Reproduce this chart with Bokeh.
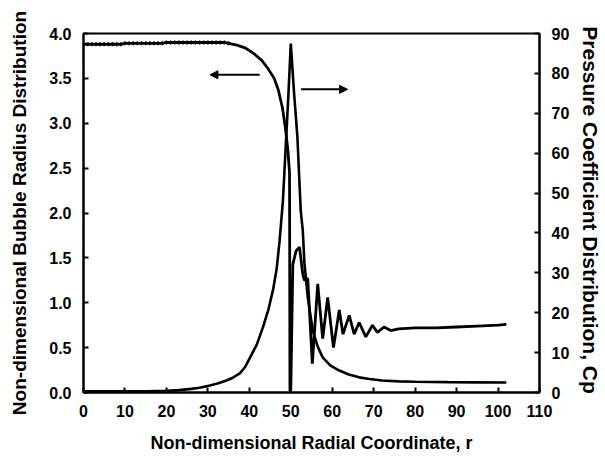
from bokeh.plotting import figure
from bokeh.models import Range1d, LinearAxis, FixedTicker, Arrow, NormalHead, PrintfTickFormatter
from bokeh.embed import file_html
from bokeh.resources import INLINE

# ---- data ----
# Bubble radius distribution (left axis)
bubble_r = [0, 1, 2, 3, 4, 5, 6, 7, 8, 9, 10, 11, 12, 13, 14, 15, 16, 17, 18, 19, 20,
            21, 22, 23, 24, 25, 26, 27, 28, 29, 30, 31, 32, 33, 34, 35,
            37, 39, 41, 43, 44.5, 46, 47, 48, 48.7, 49.3, 49.7, 49.8, 50.0, 50.5, 51.3, 52.1,
            52.9, 53.3, 54.1, 55.2, 56.5, 57.7, 58.9, 60.3, 61.7, 62.6, 64.1, 65.3, 66.5, 68.1,
            69.7, 70.9, 72.5, 74.1, 76, 80, 85, 90, 95, 100, 102]
bubble_val = [3.88, 3.88, 3.88, 3.88, 3.88, 3.88, 3.88, 3.88, 3.88, 3.88, 3.89, 3.89, 3.89, 3.89,
              3.89, 3.89, 3.89, 3.89, 3.89, 3.89, 3.9, 3.9, 3.9, 3.9, 3.9, 3.9, 3.9, 3.9, 3.9,
              3.9, 3.9, 3.9, 3.9, 3.9, 3.9, 3.89,
              3.87, 3.84, 3.78, 3.7, 3.61, 3.5, 3.37, 3.17, 2.95, 2.7, 2.45, 0.02, 0.02, 1.43, 1.58, 1.62,
              1.32, 1.25, 1.27, 0.32, 1.21, 0.6, 1.06, 0.5, 0.92, 0.65, 0.86, 0.65, 0.78, 0.62,
              0.75, 0.67, 0.73, 0.69, 0.71, 0.72, 0.72, 0.73, 0.74, 0.75, 0.76]
n_marked = 36  # dotted (marked) part of the bubble curve: r = 0 .. 35

# Pressure coefficient distribution (right axis)
cp_r = [0, 5, 10, 15, 20, 23, 26, 28, 30.5, 32.5, 34.5, 36, 37.7, 39, 40.1, 41.8, 43.3, 44.6, 45.7,
        46.6, 47.3, 48.1, 48.8, 49.4, 50.0, 50.8, 51.6, 52.4, 52.9, 53.3, 54.1, 55.3, 56.5,
        57.7, 59.5, 61.7, 64, 66.5, 69, 72, 76, 80, 88, 95, 102]
cp_val = [0.3, 0.3, 0.3, 0.3, 0.4, 0.6, 0.9, 1.2, 1.75, 2.3, 3.0, 3.7, 4.8, 6.4, 8.6, 12.0, 16.4,
          20.8, 25.6, 31.0, 38.0, 48.0, 62.0, 74.0, 87.5, 75.0, 64.0, 45.6, 40.6, 32.3, 23.9, 15.5,
          11.5, 8.8, 6.8, 5.5, 4.5, 3.8, 3.4, 3.0, 2.8, 2.7, 2.6, 2.55, 2.5]

# annotation arrows (which curve belongs to which axis)
left_arrow_r = [42.5, 30.5]
left_arrow_val = [3.54, 3.54]
right_arrow_r = [52.5, 63.7]
right_arrow_cp = [76, 76]

x_ticks = [0, 10, 20, 30, 40, 50, 60, 70, 80, 90, 100, 110]
left_ticks = [0.0, 0.5, 1.0, 1.5, 2.0, 2.5, 3.0, 3.5, 4.0]
right_ticks = [0, 10, 20, 30, 40, 50, 60, 70, 80, 90]

FONT = "Liberation Sans"

p = figure(width=605, height=473, x_range=Range1d(0, 110), y_range=Range1d(0, 4),
           output_backend="svg", toolbar_location=None,
           min_border_left=83, min_border_right=64, min_border_top=33, min_border_bottom=81)
p.extra_y_ranges = {"cp": Range1d(0, 90)}
p.grid.visible = False
p.outline_line_color = "black"
p.outline_line_width = 2
p.background_fill_color = "white"
p.border_fill_color = "white"

def style_axis(ax, standoff, label_standoff, label_size):
    ax.axis_line_color = "black"
    ax.axis_line_width = 2
    ax.major_tick_in = 5
    ax.major_tick_out = 0
    ax.major_tick_line_width = 2
    ax.minor_tick_line_color = None
    ax.major_label_text_font = FONT
    ax.major_label_text_font_style = "bold"
    ax.major_label_text_font_size = "16px"
    ax.major_label_text_color = "black"
    ax.major_label_standoff = standoff
    ax.axis_label_text_font = FONT
    ax.axis_label_text_font_style = "bold"
    ax.axis_label_text_font_size = label_size
    ax.axis_label_text_color = "black"
    ax.axis_label_standoff = label_standoff

xa = p.xaxis[0]
xa.ticker = FixedTicker(ticks=x_ticks)
xa.axis_label = "Non-dimensional Radial Coordinate, r"
style_axis(xa, 12, 13, "18px")

ya = p.yaxis[0]
ya.ticker = FixedTicker(ticks=left_ticks)
ya.formatter = PrintfTickFormatter(format="%.1f")
ya.axis_label = "Non-dimensional Bubble Radius Distribution"
style_axis(ya, 12, 16, "19px")

ra = LinearAxis(y_range_name="cp", ticker=FixedTicker(ticks=right_ticks),
                axis_label="Pressure Coefficient  Distribution, Cp")
style_axis(ra, 12, 7, "21px")
p.add_layout(ra, "right")

# curves
p.line(bubble_r, bubble_val, line_color="black", line_width=2.8)
p.scatter(bubble_r[:n_marked], bubble_val[:n_marked], marker="cross", size=4,
          line_color="black", line_width=1.5)
p.line(cp_r, cp_val, line_color="black", line_width=2.6, y_range_name="cp")

# arrows
p.add_layout(Arrow(end=NormalHead(size=8, fill_color="black", line_color="black"),
                   x_start=left_arrow_r[0], y_start=left_arrow_val[0],
                   x_end=left_arrow_r[1], y_end=left_arrow_val[1],
                   line_width=2, line_color="black"))
p.add_layout(Arrow(end=NormalHead(size=8, fill_color="black", line_color="black"),
                   x_start=right_arrow_r[0], y_start=right_arrow_cp[0],
                   x_end=right_arrow_r[1], y_end=right_arrow_cp[1],
                   line_width=2, line_color="black", y_range_name="cp"))

open("out.html", "w").write(file_html(p, INLINE))
